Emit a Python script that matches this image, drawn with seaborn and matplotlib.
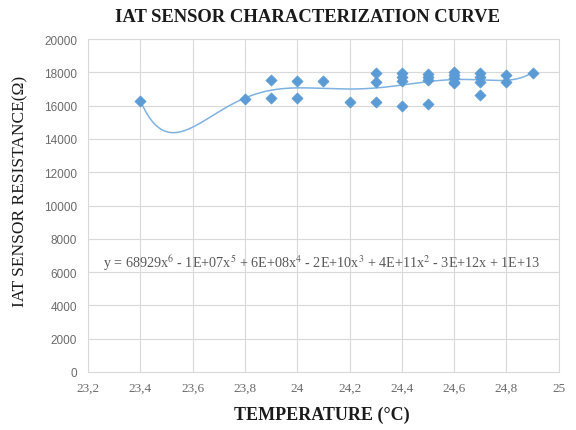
import numpy as np
import pandas as pd
import matplotlib
matplotlib.use("Agg")
import matplotlib.pyplot as plt
import seaborn as sns
from matplotlib.ticker import FuncFormatter

# ---- data ----
temperature = [23.4, 23.8, 23.9, 23.9, 24.0, 24.0, 24.1, 24.2,
               24.3, 24.3, 24.3,
               24.4, 24.4, 24.4, 24.4,
               24.5, 24.5, 24.5, 24.5,
               24.6, 24.6, 24.6, 24.6, 24.6,
               24.7, 24.7, 24.7, 24.7,
               24.8, 24.8, 24.9]
resistance = [16300, 16400, 17550, 16450, 17500, 16450, 17500, 16200,
              17950, 17450, 16250,
              17950, 17750, 17500, 16000,
              17900, 17700, 17550, 16100,
              18050, 17850, 17650, 17450, 17350,
              17950, 17700, 17450, 16650,
              17850, 17450, 17950]
x_ticks = [23.2, 23.4, 23.6, 23.8, 24.0, 24.2, 24.4, 24.6, 24.8, 25.0]
y_ticks = [0, 2000, 4000, 6000, 8000, 10000, 12000, 14000, 16000, 18000, 20000]
title = "IAT SENSOR CHARACTERIZATION CURVE"
x_label = "TEMPERATURE (°C)"
y_label = "IAT SENSOR RESISTANCE(Ω)"
equation = "y = 68929x$^6$ - 1E+07x$^5$ + 6E+08x$^4$ - 2E+10x$^3$ + 4E+11x$^2$ - 3E+12x + 1E+13"

df = pd.DataFrame({"T": temperature, "R": resistance})

# 6th-order polynomial trendline fitted to the data
poly = np.polynomial.Polynomial.fit(df["T"], df["R"], 6)
xs = np.linspace(min(temperature), max(temperature), 300)
trend = pd.DataFrame({"T": xs, "R": poly(xs)})

sns.set_theme(style="white")
plt.rcParams["mathtext.fontset"] = "stix"

fig = plt.figure(figsize=(5.76, 4.31), dpi=100)
ax = fig.add_axes([0.153, 0.1346, 0.817, 0.7724])

blue = "#5B9BD5"
sns.lineplot(data=trend, x="T", y="R", ax=ax, color="#7FB2E0", linewidth=1.1, zorder=2)
sns.scatterplot(data=df, x="T", y="R", ax=ax, marker="D", s=32, color=blue,
                edgecolor=blue, linewidth=0.5, zorder=3)

ax.set_xlim(23.2, 25.0)
ax.set_ylim(0, 20000)
ax.set_xticks(x_ticks)
ax.set_yticks(y_ticks)
ax.xaxis.set_major_formatter(FuncFormatter(lambda v, p: ("%g" % round(v, 1)).replace(".", ",")))
ax.yaxis.set_major_formatter(FuncFormatter(lambda v, p: "%d" % v))
ax.grid(True, color="#D9D9D9", linewidth=0.8)
ax.set_axisbelow(True)
for s in ax.spines.values():
    s.set_color("#D9D9D9")
    s.set_linewidth(0.8)
ax.tick_params(axis="x", length=0, labelsize=9.5, labelcolor="#6b6b6b", pad=7)
ax.tick_params(axis="y", length=0, labelsize=8.5, labelcolor="#6b6b6b", pad=8)
for lab in ax.get_xticklabels():
    lab.set_fontfamily("Liberation Serif")
for lab in ax.get_yticklabels():
    lab.set_fontfamily("Liberation Sans")

ax.set_xlabel("")
ax.set_ylabel("")
fig.text(0.559, 0.037, x_label, ha="center", va="center", fontsize=13,
         fontweight="bold", family="Liberation Serif", color="#1a1a1a")
fig.text(0.036, 0.555, y_label, ha="center", va="center", rotation=90, fontsize=12.5,
         family="Liberation Serif", color="#1a1a1a")
fig.text(0.533, 0.960, title, ha="center", va="center", fontsize=13.4,
         fontweight="bold", family="Liberation Serif", color="#1a1a1a")
ax.text(24.093, 6600, equation, ha="center", va="center", fontsize=10.2,
        family="Liberation Serif", color="#595959")

fig.savefig("out.png", dpi=100)
